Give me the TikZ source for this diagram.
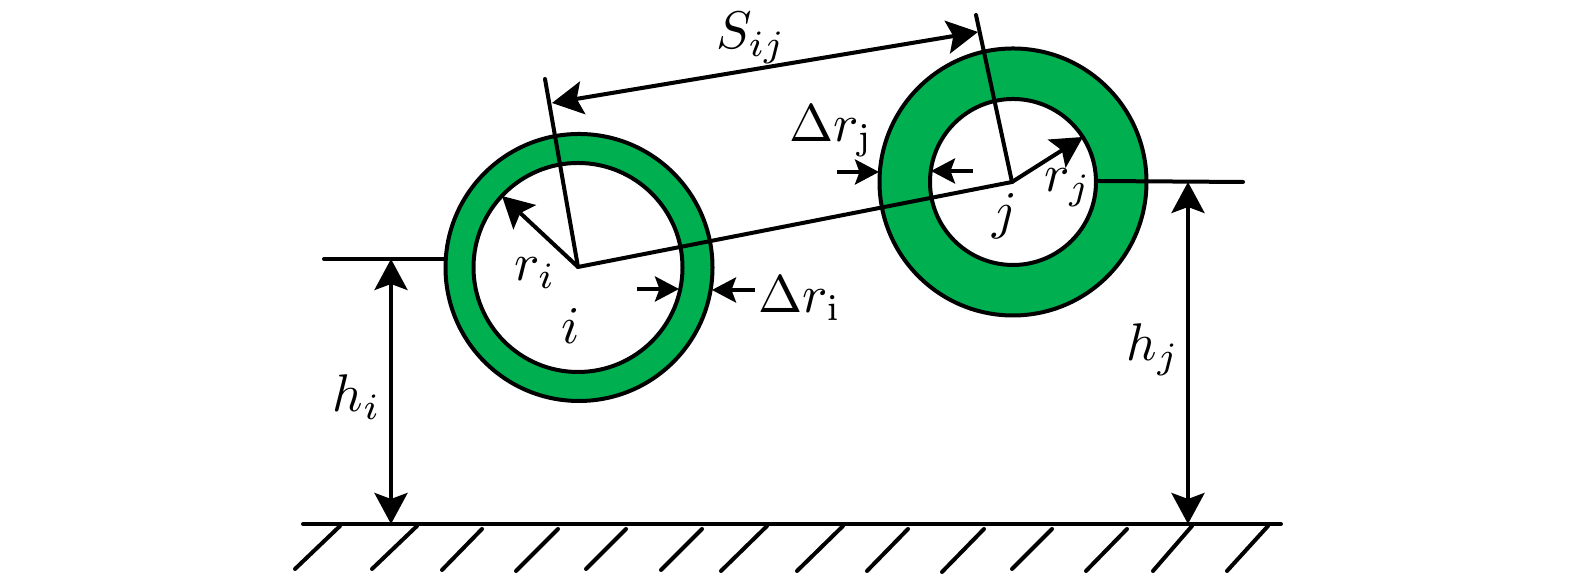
\documentclass[tikz,border=0pt]{standalone}
\usepackage{amsmath}
\usetikzlibrary{arrows.meta}
\definecolor{ringgreen}{RGB}{0,176,80}
\tikzset{
  bighead/.tip={Stealth[length=6.2pt,width=6.6pt,inset=1.2pt]},
  smallhead/.tip={Stealth[length=4.8pt,width=5pt,inset=0.9pt]},
  dimline/.style={line width=0.8pt,bighead-bighead},
  radline/.style={line width=0.8pt,-bighead},
  gapline/.style={line width=0.8pt,-smallhead},
  plainline/.style={line width=0.8pt,line cap=round},
  ring/.style={circle,draw,line width=0.8pt,inner sep=0pt,fill=ringgreen},
  hole/.style={circle,draw,line width=0.8pt,inner sep=0pt,fill=white},
  lab/.style={scale=1.06},
}
\begin{document}
\begin{tikzpicture}[x=0.2pt,y=-0.2pt]
\useasboundingbox (0,0) rectangle (1575,581);
\node [ring,minimum size=53.4pt] (outeri) at (579,267.5) {};
\node [hole,minimum size=41.8pt] (inneri) at (578,267.5) {};
\node [ring,minimum size=53.4pt] (outerj) at (1013,182) {};
\node [hole,minimum size=33.2pt] (innerj) at (1013,182) {};
\coordinate (ci) at (578,267);
\coordinate (cj) at (1012,182);
\coordinate (ti) at (545,79);
\coordinate (tj) at (976,15);
\coordinate (si) at (552,103);
\coordinate (sj) at (978,32);
\coordinate (ri) at (502,196);
\coordinate (rj) at (1083,137);
\coordinate (li) at (324,259);
\coordinate (ei) at (446,259);
\coordinate (ej) at (1097,181);
\coordinate (lj) at (1243,182);
\coordinate (g1) at (303,524);
\coordinate (g2) at (1281,524);
\coordinate (hit) at (391,259);
\coordinate (hib) at (391,524);
\coordinate (hjt) at (1188,182);
\coordinate (hjb) at (1188,524);
\coordinate (a1) at (637,289);
\coordinate (a2) at (679,289);
\coordinate (a3) at (755,290);
\coordinate (a4) at (712,290);
\coordinate (b1) at (837,172);
\coordinate (b2) at (879,172);
\coordinate (b3) at (973,171);
\coordinate (b4) at (931,171);
\draw [plainline] (ci) -- (cj);
\draw [plainline] (ci) -- (ti);
\draw [plainline] (cj) -- (tj);
\draw [plainline] (li) -- (ei);
\draw [plainline] (ej) -- (lj);
\draw [plainline] (g1) -- (g2);
\draw [dimline] (si) -- (sj);
\draw [dimline] (hit) -- (hib);
\draw [dimline] (hjt) -- (hjb);
\draw [radline] (ci) -- (ri);
\draw [radline] (cj) -- (rj);
\draw [gapline] (a1) -- (a2);
\draw [gapline] (a3) -- (a4);
\draw [gapline] (b1) -- (b2);
\draw [gapline] (b3) -- (b4);
\foreach \t/\y/\b/\e in {340/526/295/569,417/526/372/569,482/529/442/570,558/529/516/571,
  626/529/586/569,702/529/661/570,767/526/721/571,843/526/797/571,908/529/867/571,
  984/529/942/572,1052/529/1012/569,1127/529/1086/571,1192/526/1153/571,1268/526/1227/571}
  \draw [plainline] (\t,\y) -- (\b,\e);
\node [lab] (Sij) at (751,38) {$S_{ij}$};
\node [lab] (Drj) at (831,131) {$\Delta r_{\mathrm{j}}$};
\node [lab] (rjl) at (1068,188) {$r_j$};
\node [lab] (jl) at (1005,216) {$j$};
\node [lab] (ril) at (535,273) {$r_i$};
\node [lab] (il) at (571,326) {$i$};
\node [lab] (Dri) at (800,298) {$\Delta r_{\mathrm{i}}$};
\node [lab] (hil) at (357,397) {$h_i$};
\node [lab] (hjl) at (1153,350) {$h_j$};
\end{tikzpicture}
\end{document}
